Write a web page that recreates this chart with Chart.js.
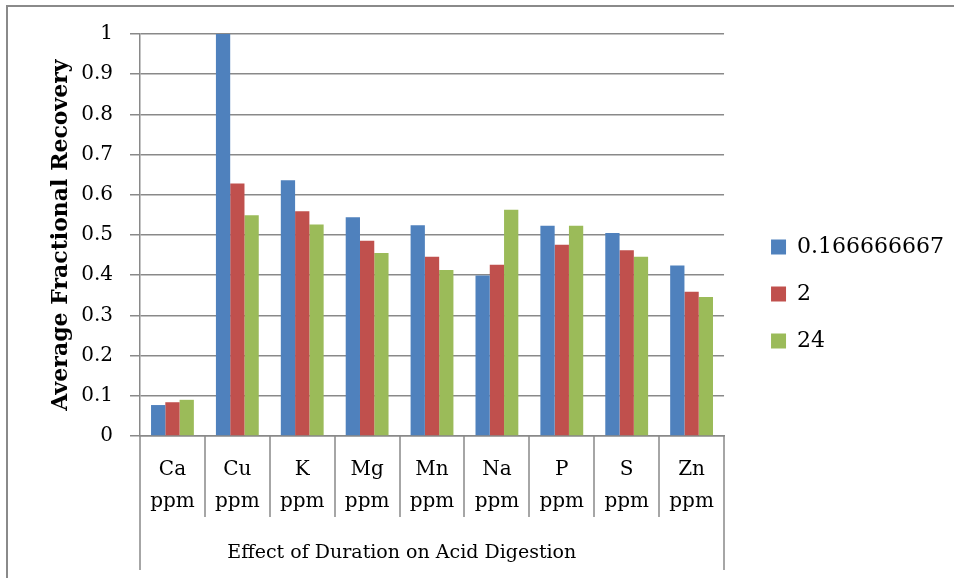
<!DOCTYPE html>
<html>
<head>
<meta charset="utf-8">
<script src="https://cdn.jsdelivr.net/npm/chart.js@4/dist/chart.umd.min.js"></script>
<style>
  html, body { margin: 0; padding: 0; background: #fff; }
  canvas { display: block; }
</style>
</head>
<body>
<canvas id="myChart" width="954" height="578"></canvas>
<script>
// elements measured, one group of bars per element
const elements = ["Ca", "Cu", "K", "Mg", "Mn", "Na", "P", "S", "Zn"];
const unit = "ppm";

// digestion durations (hours) used as series names
const durations = ["0.166666667", "2", "24"];

// average fractional recovery for each duration
const recoveryShort = [0.077, 1.0, 0.636, 0.544, 0.524, 0.399, 0.523, 0.505, 0.424];
const recovery2h = [0.084, 0.628, 0.559, 0.486, 0.446, 0.426, 0.476, 0.462, 0.359];
const recovery24h = [0.090, 0.549, 0.526, 0.455, 0.413, 0.563, 0.523, 0.446, 0.346];

const yTicks = [0, 0.1, 0.2, 0.3, 0.4, 0.5, 0.6, 0.7, 0.8, 0.9, 1];

const colors = ["#4F81BD", "#C0504D", "#9BBB59"];
const gridColor = "#898989";
const serif = "'DejaVu Serif', serif";

Chart.defaults.color = "#000";

// category separators under the axis plus the outer frame
const axisBoxes = {
  id: "axisBoxes",
  afterDraw(chart) {
    const { ctx, scales: { x }, chartArea } = chart;
    const step = x.getPixelForTick(1) - x.getPixelForTick(0);
    ctx.save();
    ctx.strokeStyle = gridColor;
    ctx.lineWidth = 1.5;
    ctx.beginPath();
    for (let i = 0; i <= elements.length; i++) {
      const px = Math.round(x.getPixelForTick(0) - step / 2 + i * step);
      const end = (i === 0 || i === elements.length) ? 570 : 517;
      ctx.moveTo(px, chartArea.bottom);
      ctx.lineTo(px, end);
    }
    ctx.stroke();
    ctx.strokeStyle = "#8a8a8a";
    ctx.lineWidth = 2;
    ctx.beginPath();
    ctx.moveTo(7, 578);
    ctx.lineTo(7, 6);
    ctx.lineTo(954, 6);
    ctx.stroke();
    ctx.restore();
  }
};

// empty axes used only as spacers around the plot
const spacer = (position, size) => ({
  type: "linear",
  position,
  display: true,
  grid: { display: false },
  border: { display: false },
  ticks: { display: false },
  afterFit: s => {
    if (position === "top") s.height = size; else s.width = size;
  }
});

new Chart(document.getElementById("myChart").getContext("2d"), {
  type: "bar",
  data: {
    labels: elements.map(e => [e, unit]),
    datasets: [
      { label: durations[0], data: recoveryShort, backgroundColor: colors[0] },
      { label: durations[1], data: recovery2h, backgroundColor: colors[1] },
      { label: durations[2], data: recovery24h, backgroundColor: colors[2] }
    ]
  },
  options: {
    responsive: false,
    animation: false,
    layout: { padding: { top: 10, left: 0, right: 0, bottom: 0 } },
    datasets: {
      bar: { categoryPercentage: 0.66, barPercentage: 1.0, borderWidth: 0 }
    },
    scales: {
      x: {
        grid: { display: false, drawTicks: false },
        border: { display: true, color: gridColor, width: 1.5 },
        ticks: {
          font: { family: serif, size: 20, lineHeight: "32px" },
          padding: 18,
          maxRotation: 0,
          autoSkip: false
        },
        title: {
          display: true,
          // trailing spaces pull the centred title a little to the left
          text: "Effect of Duration on Acid Digestion" + " ".repeat(10),
          font: { family: serif, size: 19 },
          padding: { top: 0, bottom: 14 }
        },
        afterFit: s => { s.height = 142; }
      },
      y: {
        min: 0,
        max: 1,
        afterBuildTicks: s => { s.ticks = yTicks.map(v => ({ value: v })); },
        grid: { color: gridColor, lineWidth: 1.5, tickLength: 10 },
        border: { display: true, color: gridColor, width: 1.5 },
        ticks: {
          font: { family: serif, size: 20 },
          padding: 17,
          callback: v => String(+v.toFixed(1))
        },
        title: {
          display: true,
          text: "Average Fractional Recovery",
          font: { family: serif, size: 22, weight: "bold" },
          padding: { top: 48, bottom: 0 }
        },
        afterFit: s => { s.width = 140; }
      },
      top: spacer("top", 24),
      gap: spacer("right", 22)
    },
    plugins: {
      tooltip: { enabled: false },
      legend: {
        position: "right",
        maxWidth: 260,
        labels: {
          font: { family: serif, size: 22 },
          boxWidth: 15,
          boxHeight: 15,
          padding: 25,
          color: "#000"
        }
      }
    }
  },
  plugins: [axisBoxes]
});
</script>
</body>
</html>
